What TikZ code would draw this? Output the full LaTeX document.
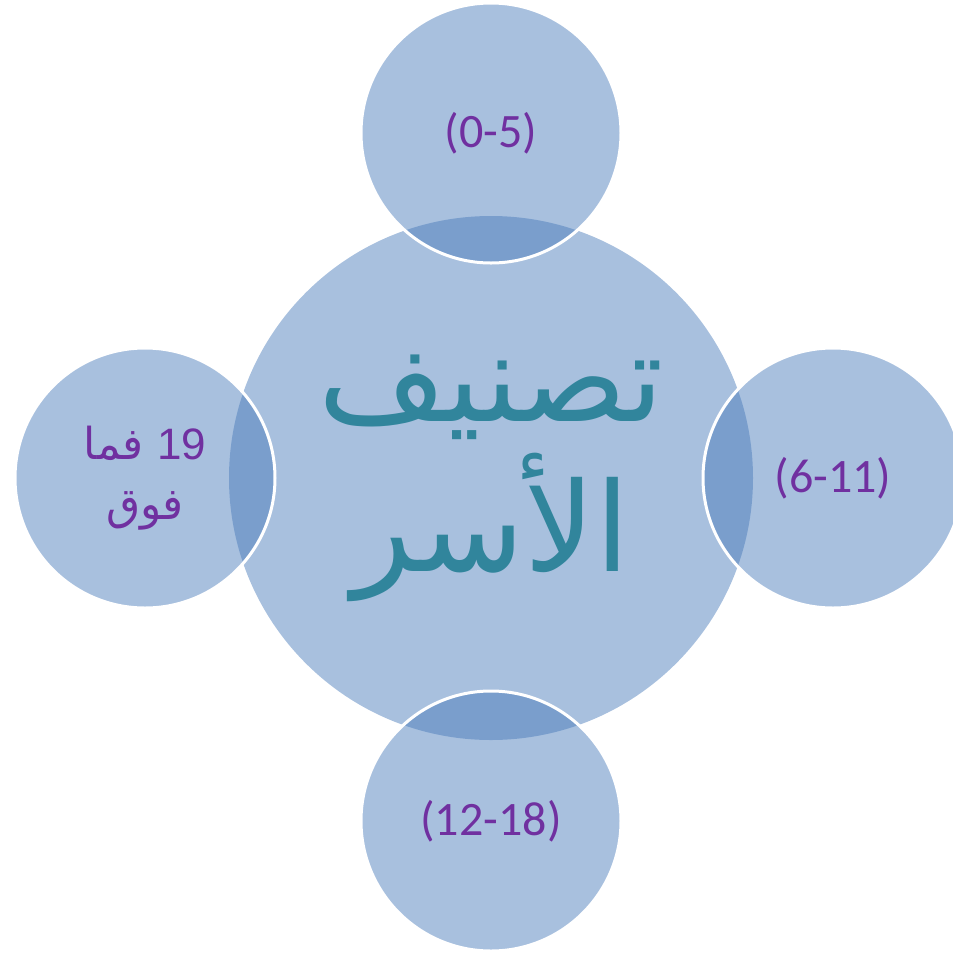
\documentclass[tikz,border=0pt]{standalone}
\usepackage{fontspec}
\setmainfont{Carlito}
\newfontfamily\arabicfont[Script=Arabic]{DejaVu Sans}
\newfontfamily\arialfont{Liberation Sans}
\TeXXeTstate=1

\definecolor{circle blue}{RGB}{70,121,185}
\definecolor{age purple}{RGB}{112,48,160}
\definecolor{title teal}{RGB}{49,133,156}

\tikzstyle{family hub}=[circle, inner sep=0pt, minimum size=524pt, fill=circle blue, fill opacity=0.47, text opacity=1, text=title teal, align=center]
\tikzstyle{age group}=[circle, inner sep=0pt, minimum size=260pt, fill=circle blue, fill opacity=0.47, text opacity=1, draw=white, line width=3pt, text=age purple, align=center, font=\fontsize{48}{60}\selectfont]

\begin{document}
\begin{tikzpicture}[x=1pt, y=-1pt]
	\useasboundingbox (0,0) rectangle (953,954);

	% Central circle
	\node[family hub, font=\arabicfont\fontsize{124}{150}\selectfont] (hub) at (491,478)
		{\beginR تصنيف\endR\\ \beginR الأسر\endR};

	% Age groups around it
	\node[age group] (infants) at (491,133) {(0-5)};
	\node[age group] (children) at (833,478) {(6-11)};
	\node[age group] (teens) at (491,821) {(12-18)};
	\node[age group, font=\arabicfont\fontsize{44}{60}\selectfont] (adults) at (145,478)
		{\beginR\beginL{\arialfont 19}\endL{} فما\endR\\ \beginR فوق\endR};
\end{tikzpicture}
\end{document}
